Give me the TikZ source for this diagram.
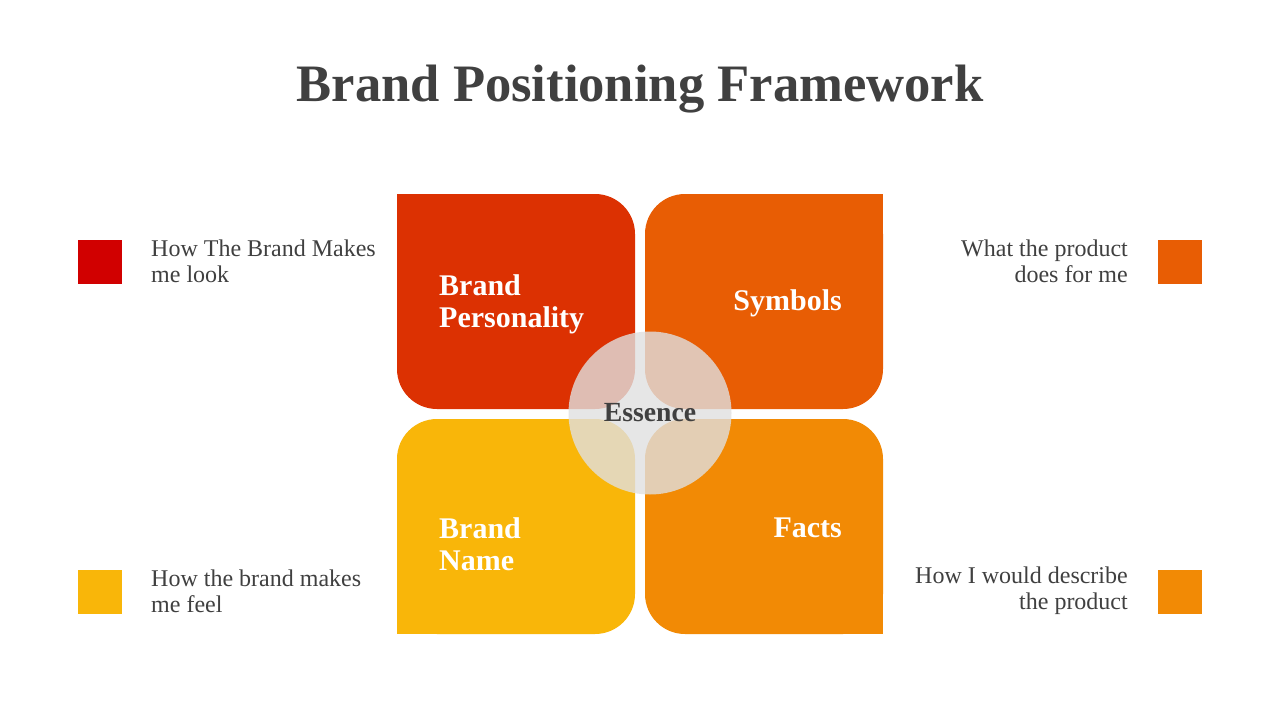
\documentclass[tikz,border=0pt]{standalone}
\usepackage{fontspec}
\setmainfont{Liberation Serif}
\begin{document}
\begin{tikzpicture}[x=1pt,y=-1pt,
  quad/.style={rounded corners=40pt, minimum width=238pt, minimum height=215pt, inner sep=0pt, draw=none},
  lbl/.style={text=white, font=\fontsize{30}{32}\selectfont\bfseries, inner sep=0pt},
  desc/.style={text=txtgray, font=\fontsize{24}{26}\selectfont, inner sep=0pt},
  swatch/.style={minimum width=44pt, minimum height=44pt, inner sep=0pt}]
\definecolor{cA}{RGB}{220,49,2}
\definecolor{cB}{RGB}{232,93,4}
\definecolor{cC}{RGB}{249,182,9}
\definecolor{cD}{RGB}{242,138,5}
\definecolor{cR}{RGB}{209,0,0}
\definecolor{txtgray}{RGB}{64,64,64}
\definecolor{essgray}{RGB}{224,224,224}
\useasboundingbox[fill=white] (0,0) rectangle (1280,720);

\node[text=txtgray, font=\fontsize{52.6}{60}\selectfont\bfseries, anchor=base] (title) at (640,101) {Brand Positioning Framework};

% quadrants
\node[quad, fill=cA] (bp) at (516,301.5) {};
\fill[cA] (bp.north west) rectangle ++(40,40);
\node[quad, fill=cB] (sy) at (764,301.5) {};
\fill[cB] (sy.north east) rectangle ++(-40,40);
\node[quad, fill=cC] (bn) at (516,526.5) {};
\fill[cC] (bn.south west) rectangle ++(40,-40);
\node[quad, fill=cD] (fa) at (764,526.5) {};
\fill[cD] (fa.south east) rectangle ++(-40,-40);

\node[lbl, align=left, anchor=west] (bpt) at (439,304) {Brand\\Personality};
\node[lbl, anchor=east] (syt) at (842,303) {Symbols};
\node[lbl, align=left, anchor=west] (bnt) at (439,544) {Brand\\Name};
\node[lbl, anchor=east] (fat) at (842,528) {Facts};

% essence
\node[circle, fill=essgray, fill opacity=0.8, text opacity=1, minimum size=163pt, inner sep=0pt,
  text=txtgray, font=\fontsize{27.7}{30}\selectfont\bfseries] (es) at (650,413) {Essence};

% legend
\node[swatch, fill=cR] (s1) at (100,262) {};
\node[swatch, fill=cC] (s2) at (100,592) {};
\node[swatch, fill=cB] (s3) at (1180,262) {};
\node[swatch, fill=cD] (s4) at (1180,592) {};

\node[desc, align=left, anchor=west] (d1) at (151,261) {How The Brand Makes\\me look};
\node[desc, align=left, anchor=west] (d2) at (151,591) {How the brand makes\\me feel};
\node[desc, align=right, anchor=east] (d3) at (1128,261) {What the product\\does for me};
\node[desc, align=right, anchor=east] (d4) at (1128,591) {How I would describe\\the product};
\end{tikzpicture}
\end{document}
